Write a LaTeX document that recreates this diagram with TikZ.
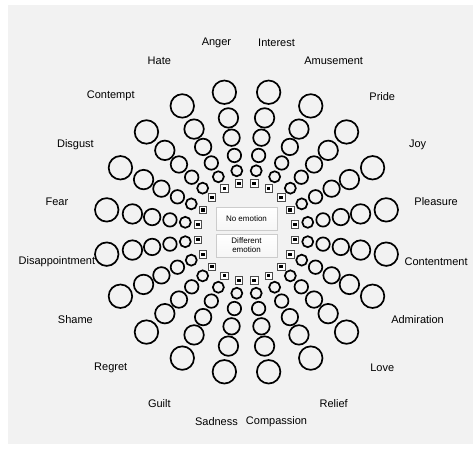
\documentclass[tikz,border=0pt]{standalone}
\usepackage{fontspec}
\setmainfont{Liberation Sans}

\begin{document}
\begin{tikzpicture}[x=1pt,y=1pt]

% Define ring, square, label and answer box styles
\tikzstyle{ring}  =[circle, draw, line width=1.7pt, inner sep=0pt]
\tikzstyle{sqbox} =[rectangle, draw=gray!60!black, fill=white,
                    line width=0.8pt, minimum size=7.5pt, inner sep=0pt]
\tikzstyle{dot}   =[rectangle, fill=black, minimum size=3.5pt, inner sep=0pt]
\tikzstyle{emo}   =[font=\fontsize{11}{13}\selectfont]
\tikzstyle{choice}=[rectangle, draw=gray!40, top color=white, bottom color=gray!7,
                    minimum width=61pt, minimum height=23pt, inner sep=0pt,
                    align=center, font=\fontsize{8}{9}\selectfont]

\useasboundingbox (-246.5,-216) rectangle (226.5,232);
\fill[gray!10] (-238.5,-212) rectangle (226.5,227);

\foreach \emo [count=\k] in {Pleasure, Joy, Pride, Amusement, Interest,
    Anger, Hate, Contempt, Disgust, Fear, Disappointment, Shame, Regret,
    Guilt, Sadness, Compassion, Relief, Love, Admiration, Contentment}{
  \pgfmathsetmacro{\a}{18*\k-9}
  \node[emo] (e\k) at (\a:192) {\emo};
  \node[sqbox] (s\k) at (\a:49) {};
  \node[dot] (d\k) at (s\k) {};
  \foreach \rad/\dia [count=\j] in {62/11, 77.5/13.5, 95.5/16.5, 115.5/19.5, 141.5/23.5}{
    \node[ring, minimum size=\dia pt] (c\k-\j) at (\a:\rad) {};
  }
}

\node[choice] (none)  at (0,13.5)  {No emotion};
\node[choice] (other) at (0,-13.5) {Different\\emotion};

\end{tikzpicture}
\end{document}
